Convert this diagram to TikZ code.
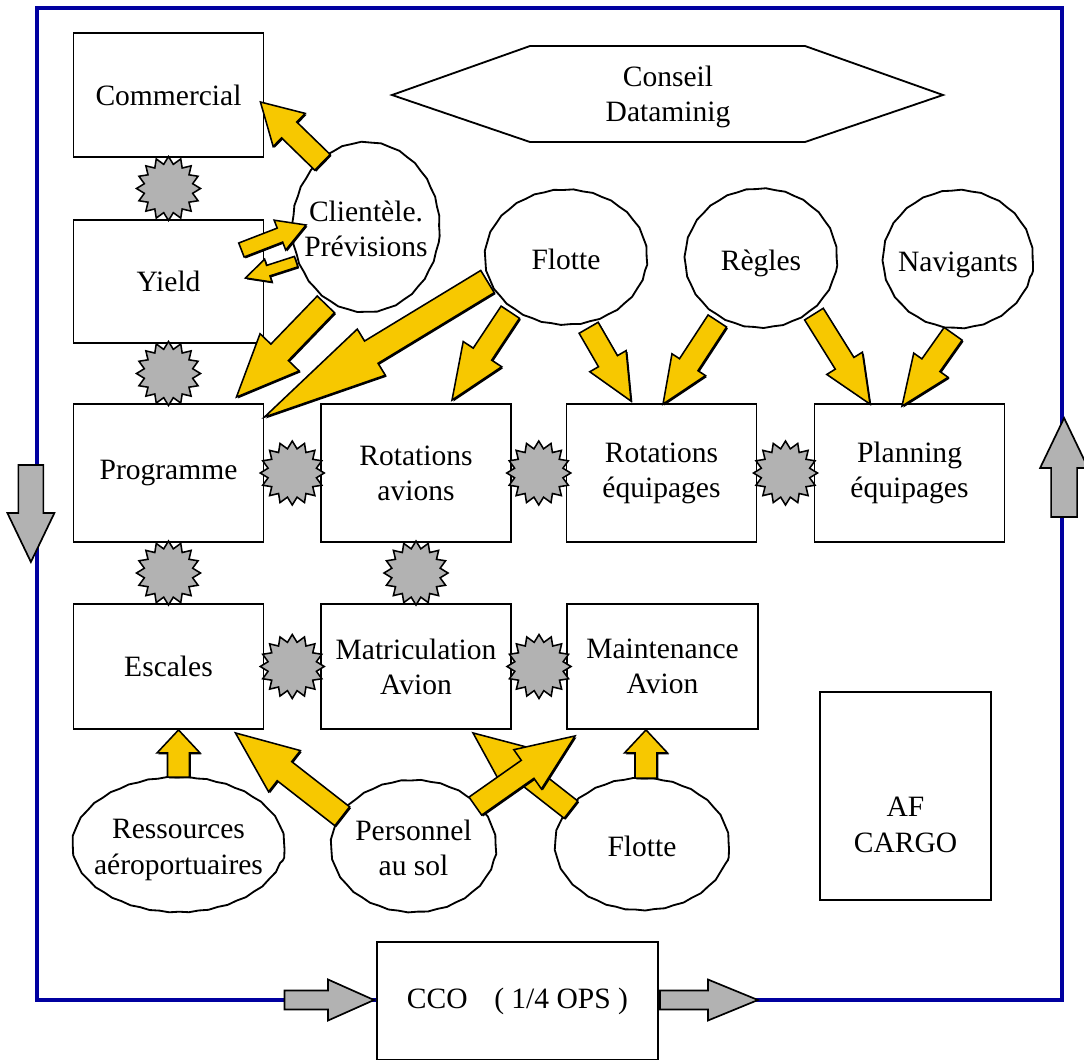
\documentclass[tikz,border=0pt]{standalone}
\usepackage{fontspec}
\setmainfont{Liberation Serif}
\usepackage{tikz}
\usetikzlibrary{shapes,arrows,positioning,calc,decorations.pathmorphing,shadows}

\definecolor{afyellow}{RGB}{247,200,0}
\definecolor{afgray}{RGB}{178,178,178}
\definecolor{afblue}{RGB}{0,0,160}

\newcommand\ctext[1]{\makebox[0pt]{\begin{tabular}{@{}c@{}}#1\end{tabular}}}
\newcommand\fatarrow[6][yarrow]{%
  \path[#1] let \p1=($(#3)-(#2)$), \n1={atan2(\y1,\x1)}, \n2={veclen(\x1,\y1)} in
    ($(#2)+(\n1+90:#4*0.3557pt)$) -- ++(\n1:\n2-#6*0.7113pt) -- ++(\n1+90:#5*0.3557pt-#4*0.3557pt) -- (#3)
    -- ($(#3)+(\n1+180:#6*0.7113pt)+(\n1-90:#5*0.3557pt)$) -- ++(\n1+90:#5*0.3557pt-#4*0.3557pt)
    -- ($(#2)+(\n1-90:#4*0.3557pt)$) -- cycle;}

\begin{document}
\begin{tikzpicture}[x=0.025cm, y=-0.025cm, font=\fontsize{21}{25}\selectfont,
  box/.style={draw, line width=1.3pt, fill=white, align=center, minimum width=4.75cm, inner sep=0pt},
  blob/.style={draw, ellipse, line width=1.3pt, fill=white, inner sep=0pt, decorate, decoration={snake, amplitude=0.3pt, segment length=14pt}},
  spark/.style={star, star points=16, star point ratio=1.3, draw, line width=1.1pt, fill=afgray, minimum size=1.6cm, inner sep=0pt},
  yarrow/.style={draw, line width=1.1pt, fill=afyellow, drop shadow={shadow xshift=1pt, shadow yshift=-1pt, opacity=1, fill=black}},
  garrow/.style={draw, line width=1.2pt, fill=afgray}]
	\useasboundingbox (0,0) rectangle (1084,1059);
	\node[draw=afblue, line width=2.8pt, minimum width=25.625cm, minimum height=24.8cm, inner sep=0pt] (frame) at (549.5,504) {};

	\node[box, minimum height=3.1cm] (com) at (168.5,95) {Commercial};
	\node[box, minimum height=3.075cm] (yield) at (168.5,281.5) {Yield};
	\node[box, minimum height=3.45cm] (prog) at (168.5,473) {Programme};
	\node[box, minimum height=3.45cm] (rotav) at (416,473) {Rotations\\avions};
	\node[box, minimum height=3.45cm] (roteq) at (661.5,473) {Rotations\\équipages};
	\node[box, minimum height=3.45cm] (plan) at (909.5,473) {Planning\\équipages};
	\node[box, minimum height=3.125cm] (esc) at (168.5,666.5) {Escales};
	\node[box, minimum height=3.125cm] (mat) at (416,666.5) {Matriculation\\Avion};
	\node[box, minimum height=3.125cm, minimum width=4.775cm] (maint) at (662.5,666.5) {Maintenance\\Avion};
	\node[box, minimum width=4.275cm, minimum height=5.2cm, label={[align=center, yshift=-0.72cm]center:AF\\CARGO}] (cargo) at (905.5,796) {};
	\node[box, minimum width=7.025cm, minimum height=2.95cm] (cco) at (517.5,1001) {CCO\hspace{0.9em}( 1/4 OPS )};

	\node[align=center] (dm) at (668,97) {Conseil\\Dataminig};
	\draw[line width=1.3pt, line join=miter] ($(dm)+(-276,-2)$) -- ($(dm)+(-138,-51)$) -- ($(dm)+(137,-51)$) -- ($(dm)+(275,-2)$) -- ($(dm)+(137,45)$) -- ($(dm)+(-138,45)$) -- cycle;

	\node[blob, minimum width=3.675cm, minimum height=4.25cm] (cli) at (366,232) {\ctext{Clientèle.\\Prévisions}};
	\node[blob, minimum width=4.05cm, minimum height=3.375cm] (fl1) at (566,262) {\ctext{Flotte}};
	\node[blob, minimum width=3.8cm, minimum height=3.475cm] (reg) at (761,263) {\ctext{Règles}};
	\node[blob, minimum width=3.75cm, minimum height=3.45cm] (nav) at (958,264) {\ctext{Navigants}};
	\node[blob, minimum width=5.3cm, minimum height=3.375cm] (res) at (178.5,849.5) {\ctext{Ressources\\aéroportuaires}};
	\node[blob, minimum width=4.125cm, minimum height=3.3cm] (pers) at (413.5,851) {\ctext{Personnel\\au sol}};
	\node[blob, minimum width=4.35cm, minimum height=3.3cm] (fl2) at (642,849) {\ctext{Flotte}};

	\node[spark] (s1) at ($(com.south)!0.5!(yield.north)$) {};
	\node[spark] (s2) at ($(yield.south)!0.5!(prog.north)$) {};
	\node[spark] (s3) at ($(prog.east)!0.5!(rotav.west)$) {};
	\node[spark] (s4) at ($(rotav.east)!0.5!(roteq.west)$) {};
	\node[spark] (s5) at ($(roteq.east)!0.5!(plan.west)$) {};
	\node[spark] (s6) at ($(prog.south)!0.5!(esc.north)$) {};
	\node[spark] (s7) at ($(rotav.south)!0.5!(mat.north)$) {};
	\node[spark] (s8) at ($(esc.east)!0.5!(mat.west)$) {};
	\node[spark] (s9) at ($(mat.east)!0.5!(maint.west)$) {};

	\coordinate (c1) at ($(com.east)+(-4,7)$);
	\coordinate (y0) at ($(yield.east)+(-23,-31.5)$);
	\coordinate (c2) at ($(cli.west)+(14.5,-7)$);
	\coordinate (y1) at ($(yield.east)+(-19,-3.5)$);
	\coordinate (p1) at ($(prog.north east)+(-28,-6)$);
	\coordinate (p2) at ($(prog.north east)+(0,14)$);
	\coordinate (ra) at ($(rotav.north)+(36,-3)$);
	\coordinate (re1) at ($(roteq.north)+(-30.5,-2)$);
	\coordinate (re2) at ($(roteq.north)+(1.5,1)$);
	\coordinate (pl1) at ($(plan.north)+(-39.5,1)$);
	\coordinate (pl2) at ($(plan.north)+(-7.5,3)$);
	\coordinate (r0) at ($(res.north)+(0,-4)$);
	\coordinate (e1) at ($(esc.south east)+(-29,3)$);
	\coordinate (e2) at (r0 |- esc.south);
	\coordinate (m1) at ($(mat.south)+(57,3)$);
	\coordinate (f0) at ($(fl2.north)+(4,-4)$);
	\coordinate (mt1) at ($(maint.south west)+(9,6)$);
	\coordinate (mt2) at (f0 |- maint.south);

	\fatarrow{cli.122}{c1}{22}{46}{40}
	\fatarrow{y0}{c2}{15}{32}{28}
	\fatarrow{cli.-157}{y1}{11}{24}{24}
	\fatarrow{cli.-119}{p1}{24}{54}{62}
	\fatarrow{fl1.-166}{p2}{26}{54}{125}
	\fatarrow{fl1.-138}{ra}{22}{46}{55}
	\fatarrow{fl1.-71}{re1}{22}{42}{46}
	\fatarrow{reg.-127}{re2}{22}{40}{47}
	\fatarrow{reg.-44}{pl1}{22}{42}{48}
	\fatarrow{nav.-94}{pl2}{22}{42}{50}
	\fatarrow{r0}{e2}{22}{43}{23}
	\fatarrow{pers.154}{e1}{24}{52}{62}
	\fatarrow{fl2.151}{m1}{22}{50}{58}
	\fatarrow{pers.36}{mt1}{22}{48}{58}
	\fatarrow{f0}{mt2}{22}{43}{23}

	\coordinate (gl0) at ($(frame.west)+(-4,-39)$);
	\coordinate (gl1) at ($(frame.west)+(-4,58)$);
	\coordinate (gr0) at ($(frame.east)+(0,13)$);
	\coordinate (gr1) at ($(frame.east)+(0,-86)$);
	\coordinate (gb0) at ($(cco.west)+(-91.5,-1)$);
	\coordinate (gb1) at ($(cco.west)+(-2,-1)$);
	\coordinate (gb2) at ($(cco.east)+(1,-1)$);
	\coordinate (gb3) at ($(cco.east)+(99,-1)$);
	\fatarrow[garrow]{gl0}{gl1}{25}{47}{49}
	\fatarrow[garrow]{gr0}{gr1}{26}{48}{50}
	\fatarrow[garrow]{gb0}{gb1}{19}{41}{46}
	\fatarrow[garrow]{gb2}{gb3}{19}{41}{50}
\end{tikzpicture}
\end{document}
